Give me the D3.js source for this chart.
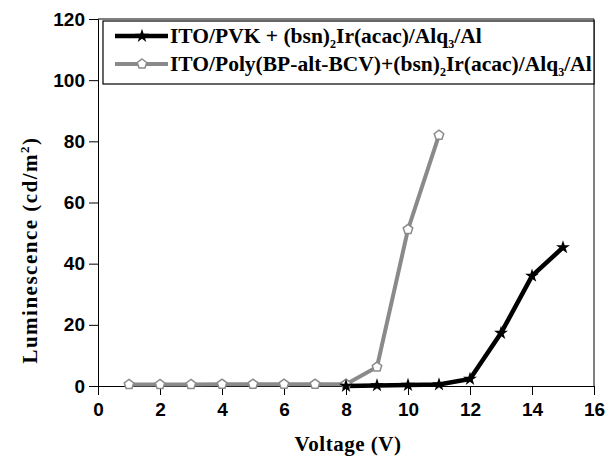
<!DOCTYPE html>
<html>
<head>
<meta charset="utf-8">
<script src="https://cdn.jsdelivr.net/npm/d3@7"></script>
<style>
  body { margin: 0; background: #fff; }
  svg text { fill: #000; }
</style>
</head>
<body>
<div class="container"></div>
<script>
// data
const pvkVoltage = [8, 9, 10, 11, 12, 13, 14, 15];
const pvkLum = [0, 0.2, 0.3, 0.5, 2.3, 17.3, 36, 45.3];
const polyVoltage = [1, 2, 3, 4, 5, 6, 7, 8, 9, 10, 11];
const polyLum = [0.5, 0.5, 0.5, 0.6, 0.6, 0.6, 0.6, 0.6, 6.2, 51.2, 82];
const xTicks = [0, 2, 4, 6, 8, 10, 12, 14, 16];
const yTicks = [0, 20, 40, 60, 80, 100, 120];
// "_" marks a subscript character
const legendLabels = ["ITO/PVK + (bsn)_2Ir(acac)/Alq_3/Al", "ITO/Poly(BP-alt-BCV)+(bsn)_2Ir(acac)/Alq_3/Al"];

const width = 607;
const height = 459;
const margin = { top: 19, right: 13, bottom: 73, left: 98 };

const svg = d3.select(".container")
  .append("svg")
  .attr("width", width)
  .attr("height", height);

const x = d3.scaleLinear().domain([0, 16]).range([margin.left, width - margin.right]);
const y = d3.scaleLinear().domain([0, 120]).range([height - margin.bottom, margin.top]);

const tickFont = "'Liberation Sans', Arial, sans-serif";
const serif = "'Liberation Serif', 'Times New Roman', serif";

// frame (top and right)
svg.append("path")
  .attr("d", `M${x(0)},${y(120)}H${x(16)}V${y(0)}`)
  .attr("fill", "none")
  .attr("stroke", "#000")
  .attr("stroke-width", 1);

// x axis with minor ticks
const xAxis = svg.append("g").attr("transform", `translate(0,${y(0)})`);
xAxis.call(d3.axisBottom(x).tickValues(d3.range(1, 16, 2)).tickSize(5).tickFormat(""));
xAxis.call(d3.axisBottom(x).tickValues(xTicks).tickSize(9).tickPadding(8).tickFormat(d3.format("d")));
xAxis.selectAll("text")
  .style("font-family", tickFont)
  .style("font-weight", "bold")
  .style("font-size", "19px")
  .attr("dy", "0.71em");

const yAxis = svg.append("g").attr("transform", `translate(${x(0)},0)`);
yAxis.call(d3.axisLeft(y).tickValues(d3.range(10, 120, 20)).tickSize(5).tickFormat(""));
yAxis.call(d3.axisLeft(y).tickValues(yTicks).tickSize(9).tickPadding(4).tickFormat(d3.format("d")));
yAxis.selectAll("text")
  .style("font-family", tickFont)
  .style("font-weight", "bold")
  .style("font-size", "19px");
svg.selectAll(".domain").attr("stroke", "#000");
svg.selectAll(".tick line").attr("stroke", "#000");

// axis titles
svg.append("text")
  .attr("x", x(8) + 2)
  .attr("y", 451)
  .attr("text-anchor", "middle")
  .style("font-family", serif)
  .style("font-weight", "bold")
  .style("font-size", "21px")
  .style("letter-spacing", "0.5px")
  .text("Voltage (V)");

const yTitle = svg.append("text")
  .attr("transform", `translate(37,${250}) rotate(-90)`)
  .attr("text-anchor", "middle")
  .style("font-family", serif)
  .style("font-weight", "bold")
  .style("font-size", "21px")
  .style("letter-spacing", "1.5px");
yTitle.append("tspan").text("Luminescence (cd/m");
yTitle.append("tspan").attr("dy", -8).style("font-size", "13px").text("2");
yTitle.append("tspan").attr("dy", 8).text(")");

// lines
const line = d3.line().x(d => x(d[0])).y(d => y(d[1]));
const pvk = d3.zip(pvkVoltage, pvkLum);
const poly = d3.zip(polyVoltage, polyLum);

svg.append("path")
  .datum(poly)
  .attr("d", line)
  .attr("fill", "none")
  .attr("stroke", "#8a8a8a")
  .attr("stroke-width", 4);

svg.append("path")
  .datum(pvk)
  .attr("d", line)
  .attr("fill", "none")
  .attr("stroke", "#000")
  .attr("stroke-width", 4.5);

const star = d3.symbol().type(d3.symbolStar).size(60);

// pentagon path
function pentagon(r) {
  const pts = d3.range(5).map(i => {
    const a = -Math.PI / 2 + i * 2 * Math.PI / 5;
    return [r * Math.cos(a), r * Math.sin(a)];
  });
  return "M" + pts.join("L") + "Z";
}

svg.selectAll(".polyPt")
  .data(poly)
  .enter()
  .append("path")
  .attr("class", "polyPt")
  .attr("transform", d => `translate(${x(d[0])},${y(d[1])})`)
  .attr("d", pentagon(5))
  .attr("fill", "#fff")
  .attr("stroke", "#8a8a8a")
  .attr("stroke-width", 1.5);

svg.selectAll(".pvkPt")
  .data(pvk)
  .enter()
  .append("path")
  .attr("class", "pvkPt")
  .attr("transform", d => `translate(${x(d[0])},${y(d[1])})`)
  .attr("d", star)
  .attr("fill", "#000");

// legend
const legend = svg.append("g");
legend.append("rect")
  .attr("x", 103)
  .attr("y", 21)
  .attr("width", 491)
  .attr("height", 63)
  .attr("fill", "#fff")
  .attr("stroke", "#000")
  .attr("stroke-width", 1.2);

const rows = [
  { y: 36, color: "#000", w: 4.5, marker: "star" },
  { y: 64, color: "#8a8a8a", w: 4, marker: "pent" }
];
rows.forEach((r, i) => {
  legend.append("line")
    .attr("x1", 115).attr("x2", 168)
    .attr("y1", r.y).attr("y2", r.y)
    .attr("stroke", r.color)
    .attr("stroke-width", r.w);
  if (r.marker === "star") {
    legend.append("path")
      .attr("transform", `translate(142,${r.y})`)
      .attr("d", star)
      .attr("fill", "#000");
  } else {
    legend.append("path")
      .attr("transform", `translate(142,${r.y})`)
      .attr("d", pentagon(5))
      .attr("fill", "#fff")
      .attr("stroke", r.color)
      .attr("stroke-width", 1.5);
  }
  // label with subscripts
  const t = legend.append("text")
    .attr("x", 170)
    .attr("y", r.y + 7)
    .style("font-family", serif)
    .style("font-weight", "bold")
    .style("font-size", "21.5px");
  const parts = legendLabels[i].split("_");
  parts.forEach((p, j) => {
    if (j === 0) {
      t.append("tspan").text(p);
    } else {
      t.append("tspan").attr("dy", 5).style("font-size", "12px").text(p[0]);
      t.append("tspan").attr("dy", -5).text(p.slice(1));
    }
  });
});
</script>
</body>
</html>
